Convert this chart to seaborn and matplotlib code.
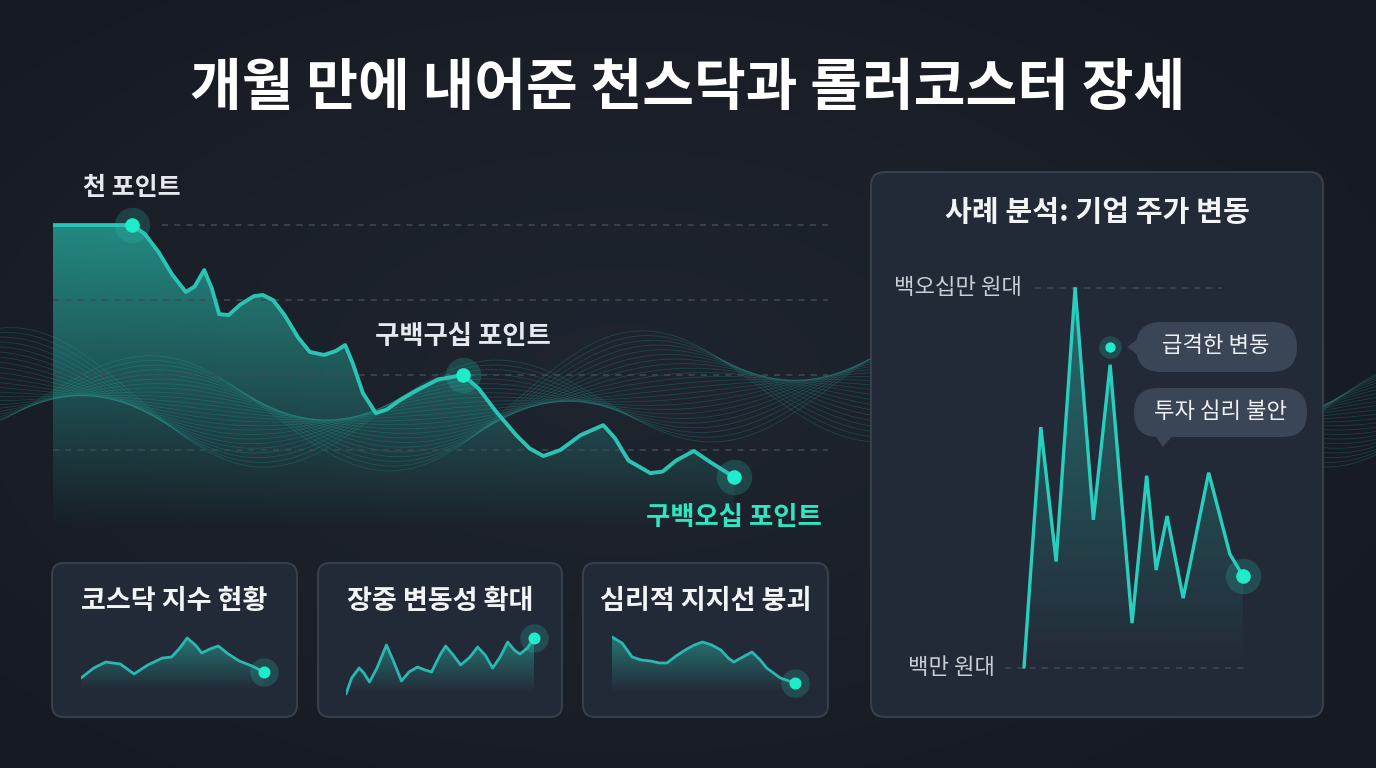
import numpy as np
import pandas as pd
import matplotlib
matplotlib.use("Agg")
import matplotlib.pyplot as plt
import seaborn as sns
from matplotlib.colors import to_rgb
from matplotlib.patches import FancyBboxPatch, Polygon, PathPatch

# ---- data -------------------------------------------------------------
title = "개월 만에 내어준 천스닥과 롤러코스터 장세"

# main index line (time index, index level)
main_t = [0, 11.6, 13.5, 15.5, 17.5, 19.5, 20.8, 22.2, 23.3, 24.4, 25.8, 27.5,
          29.5, 30.8, 32.3, 34, 36, 37.7, 39.8, 41.5, 42.9, 44, 45.5, 47.4,
          49, 51, 53.5, 56.5, 60.2, 62.5, 65, 68, 70, 72, 74.5, 77.5, 80.8,
          82.5, 84.5, 87.7, 89.5, 91.5, 94.1, 96.5, 100]
main_v = [100, 100, 97, 91, 83.5, 77.7, 79.5, 85, 79, 70.3, 70, 73.5,
          76.3, 76.7, 75, 70, 62.5, 57.7, 56.7, 58, 60, 54, 44, 37.3,
          38.5, 41.7, 45, 48.5, 50, 45.5, 38, 30, 25.5, 23, 25, 30, 33.3,
          29, 21.5, 17.3, 17.8, 21.5, 24.7, 21, 16]
main_grid = [100, 75, 50, 25]
mark_t = [11.6, 60.2, 100]
mark_v = [100, 50, 16]
mark_labels = ["천 포인트", "구백구십 포인트", "구백오십 포인트"]

# small cards
card_titles = ["코스닥 지수 현황", "장중 변동성 확대", "심리적 지지선 붕괴"]
card1_t = [0, 1.4, 2.7, 4.3, 5.8, 7.3, 8.9, 9.9, 10.8, 11.6, 12.5, 13.2, 14.1,
           15, 16.1, 17.3, 18.7, 20]
card1_v = [12, 22, 28, 26, 16, 25, 32, 33, 42, 52, 45, 37, 41, 44, 36, 29, 24, 18]
card2_t = [0, 0.6, 1.4, 1.9, 2.5, 3.3, 4.3, 5, 5.9, 6.7, 7.6, 8.4, 9.1, 10,
           10.6, 11.4, 12.2, 13.2, 14, 14.8, 15.6, 16.4, 17.2, 17.9, 18.5,
           19.3, 20]
card2_v = [-1, 15, 25, 20, 11, 25, 48, 33, 12, 21, 26, 23, 21, 38, 47, 38, 28,
           36, 46, 38, 25, 36, 51, 43, 39, 45, 55]
card3_t = [0, 1.1, 2.2, 3.2, 4.2, 5.2, 6, 7, 8, 9, 9.9, 10.9, 11.9, 12.7, 13.3,
           14.3, 15.3, 16.2, 16.9, 18.4, 20]
card3_v = [55, 49, 35, 32, 31, 29, 29, 36, 42, 47, 50, 47, 42, 34, 30, 35, 40,
           32, 24, 14, 9]

# case study: share price (sessions, 만 원)
case_title = "사례 분석: 기업 주가 변동"
case_t = [0, 2.3, 4.4, 7, 9.5, 11.8, 14.8, 16.8, 18.1, 19.6, 21.8, 25.3, 28.2, 30]
case_v = [100.1, 131.7, 114, 150.1, 119.5, 139.9, 105.9, 125.3, 112.9, 120,
          109.2, 125.7, 115, 112.1]
case_levels = [150, 100]
case_level_labels = ["백오십만 원대", "백만 원대"]
case_notes = ["급격한 변동", "투자 심리 불안"]

# ---- style ------------------------------------------------------------
sns.set_theme(style="dark")
plt.rcParams["font.family"] = ["Noto Sans CJK KR", "DejaVu Sans"]

W, H = 1376, 768
BG = "#1b202a"
CARD = "#232a37"
EDGE = "#383f4c"
TEAL = "#2bc4b4"
DOT = "#1fecc8"
GRID = "#414956"

fig = plt.figure(figsize=(W / 100, H / 100), dpi=100, facecolor=BG)


def px_axes(x0, y0, x1, y1):
    ax = fig.add_axes([x0 / W, 1 - y1 / H, (x1 - x0) / W, (y1 - y0) / H])
    ax.set_axis_off()
    ax.patch.set_alpha(0)
    return ax


def grad_fill(ax, x, y, base, top, color, a_top):
    poly = ax.fill_between(x, y, base, color="none", lw=0)
    path = poly.get_paths()[0]
    rgba = np.zeros((256, 1, 4))
    rgba[..., :3] = to_rgb(color)
    rgba[..., 3] = np.linspace(a_top, 0, 256)[:, None]
    im = ax.imshow(rgba, extent=[min(x), max(x), base, top], origin="upper",
                   aspect="auto", zorder=1, interpolation="bilinear")
    im.set_clip_path(PathPatch(path, transform=ax.transData, fc="none", ec="none"))


def glow_dot(ax, x, y, s_in=110, s_out=650):
    ax.scatter([x], [y], s=s_out, color=TEAL, alpha=0.22, lw=0, zorder=5, clip_on=False)
    ax.scatter([x], [y], s=s_in, color=DOT, lw=0, zorder=6, clip_on=False)


# ---- background ---------------------------------------------------------
bg = fig.add_axes([0, 0, 1, 1])
bg.set_xlim(0, W)
bg.set_ylim(H, 0)
bg.set_axis_off()
yy, xx = np.mgrid[0:H:4, 0:W:4]
r = np.sqrt(((xx - 620) / 900) ** 2 + ((yy - 380) / 520) ** 2)
c0, c1 = np.array(to_rgb("#1f2530")), np.array(to_rgb("#161a22"))
img = c0 + (c1 - c0) * np.clip(r, 0, 1)[..., None]
bg.imshow(img, extent=[0, W, H, 0], aspect="auto", zorder=0)

# ribbon of thin wave lines behind the charts (decoration)
xw = np.linspace(0, W, 900)
for s in np.linspace(-1, 1, 24):
    xs = xw - 45 * s
    centre = 400 + 20 * np.sin(2 * np.pi * (xs - 120) / 900)
    width = 55 * np.sin(2 * np.pi * (xs - 90) / 470)
    bg.plot(xw, centre + s * width, color="#2aa89d", lw=0.6, alpha=0.25, zorder=1)

card_boxes = [(52, 563, 297, 717), (318, 563, 562, 717), (583, 563, 828, 717)]
for (x0, y0, x1, y1), name in zip(card_boxes, card_titles):
    bg.add_patch(FancyBboxPatch((x0, y0), x1 - x0, y1 - y0,
                                boxstyle="round,pad=0,rounding_size=12",
                                fc=CARD, ec=EDGE, lw=1.5, zorder=2))
    bg.text((x0 + x1) / 2, 601, name, color="#f2f4f6", fontsize=19.5,
            weight="bold", ha="center", va="center", zorder=3)

bg.add_patch(FancyBboxPatch((871, 172), 452, 545,
                            boxstyle="round,pad=0,rounding_size=14",
                            fc=CARD, ec=EDGE, lw=1.5, zorder=2))
bg.text(1097, 212, case_title, color="#f2f4f6", fontsize=21, weight="bold",
        ha="center", va="center", zorder=3)
bg.text(1022, 288, case_level_labels[0], color="#c9ced5", fontsize=16,
        weight="medium", ha="right", va="center", zorder=3)
bg.text(995, 668, case_level_labels[1], color="#c9ced5", fontsize=16,
        weight="medium", ha="right", va="center", zorder=3)

# speech bubbles
BUB = "#3a4555"
bg.add_patch(FancyBboxPatch((1136, 322), 161, 50,
                            boxstyle="round,pad=0,rounding_size=25",
                            fc=BUB, ec="none", zorder=3))
bg.add_patch(Polygon([(1127, 347), (1142, 336), (1142, 358)], fc=BUB, ec="none", zorder=3))
bg.text(1216, 346, case_notes[0], color="#eef0f3", fontsize=16, weight="medium",
        ha="center", va="center", zorder=4)
bg.add_patch(FancyBboxPatch((1134, 388), 173, 49,
                            boxstyle="round,pad=0,rounding_size=24",
                            fc=BUB, ec="none", zorder=3))
bg.add_patch(Polygon([(1154, 434), (1174, 434), (1163, 447)], fc=BUB, ec="none", zorder=3))
bg.text(1221, 411, case_notes[1], color="#eef0f3", fontsize=16, weight="medium",
        ha="center", va="center", zorder=4)

bg.text(688, 88, title, color="#ffffff", fontsize=40.5, weight="bold",
        ha="center", va="center", zorder=3)

# ---- main chart ---------------------------------------------------------
ax = px_axes(53, 160, 828, 540)
main_df = pd.DataFrame({"t": main_t, "v": main_v})
for g in main_grid:
    ax.axhline(g, xmin=(0.14 if g == 100 else 0), color=GRID, lw=1.1,
               ls=(0, (4, 4)), zorder=1.5)
grad_fill(ax, main_t, main_v, -2, 100, "#27b4a6", 0.72)
sns.lineplot(data=main_df, x="t", y="v", ax=ax, color=TEAL, lw=2.8,
             solid_joinstyle="round", solid_capstyle="round", zorder=4)
ax.set_xlim(0, 113.8)
ax.set_ylim(-5, 121.7)
ax.set_axis_off()
for t, v in zip(mark_t, mark_v):
    glow_dot(ax, t, v)
ax.annotate(mark_labels[0], (mark_t[0], mark_v[0]), xytext=(0, 27),
            textcoords="offset points", ha="center", va="center",
            color="#e6e9ed", fontsize=18, weight="bold")
ax.annotate(mark_labels[1], (mark_t[1], mark_v[1]), xytext=(0, 28),
            textcoords="offset points", ha="center", va="center",
            color="#e6e9ed", fontsize=19, weight="bold")
ax.annotate(mark_labels[2], (mark_t[2], mark_v[2]), xytext=(0, -29),
            textcoords="offset points", ha="center", va="center",
            color="#2fe6c3", fontsize=19, weight="bold")

# ---- small sparklines -----------------------------------------------------
spark_boxes = [(81, 630, 264, 700), (346, 630, 534, 700), (612, 630, 795, 700)]
spark_lims = [(-10, 60), (-7, 63), (-8, 62)]
for (x0, y0, x1, y1), (lo, hi), t, v in zip(
        spark_boxes, spark_lims, [card1_t, card2_t, card3_t],
        [card1_v, card2_v, card3_v]):
    sa = px_axes(x0, y0, x1, y1)
    grad_fill(sa, t, v, 0, max(v), "#27b4a6", 0.55)
    sns.lineplot(x=t, y=v, ax=sa, color="#2ab8b0", lw=2.0,
                 solid_joinstyle="round", zorder=4)
    sa.set_xlim(0, 20)
    sa.set_ylim(lo, hi)
    sa.set_axis_off()
    glow_dot(sa, t[-1], v[-1], s_in=75, s_out=420)

# ---- case study chart ---------------------------------------------------
ca = px_axes(1000, 270, 1260, 700)
ca.plot([1.5, 27.1], [case_levels[0]] * 2, color=GRID, lw=1.1, ls=(0, (4, 4)), zorder=1)
ca.plot([-2.6, 30.3], [case_levels[1]] * 2, color=GRID, lw=1.1, ls=(0, (4, 4)), zorder=1)
grad_fill(ca, case_t, case_v, 100, 150, "#27b4a6", 0.5)
sns.lineplot(x=case_t, y=case_v, ax=ca, color="#29cfbe", lw=2.4,
             solid_joinstyle="miter", zorder=4)
ca.set_xlim(-3.29, 32.33)
ca.set_ylim(95.79, 152.37)
ca.set_axis_off()
glow_dot(ca, case_t[-1], case_v[-1], s_in=110, s_out=650)
glow_dot(ca, 11.8, 142.2, s_in=55, s_out=260)

fig.savefig("out.png", dpi=100, facecolor=BG)
